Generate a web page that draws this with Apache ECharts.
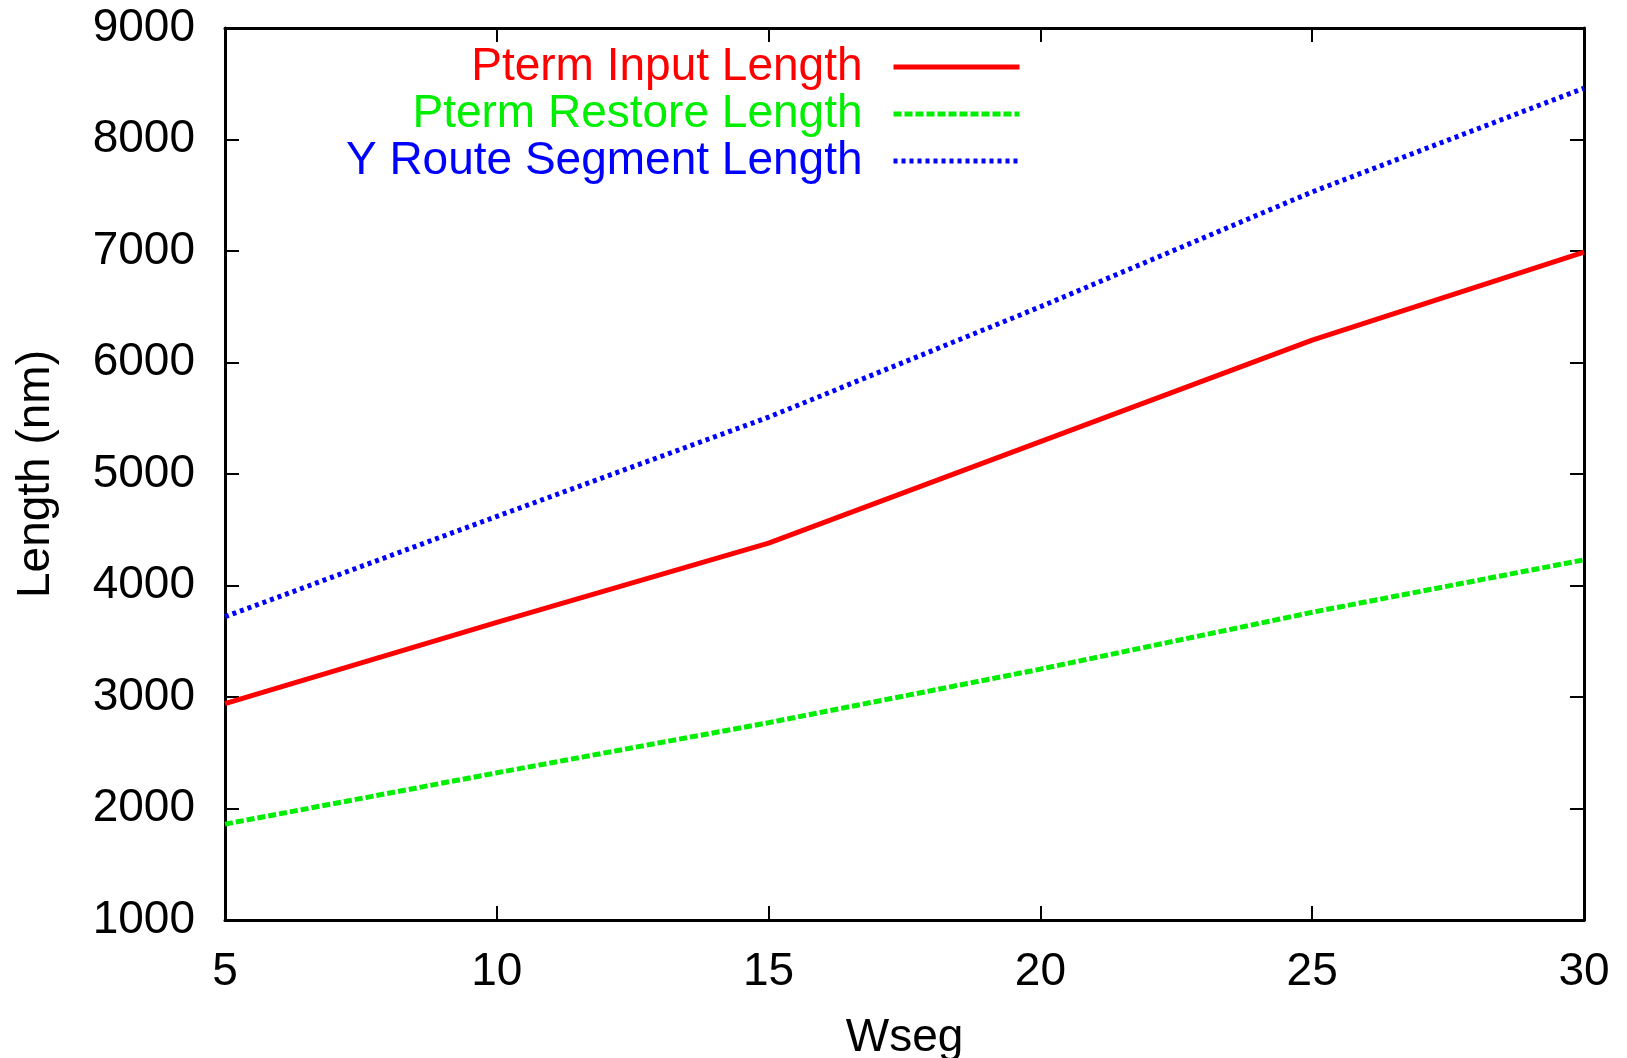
<!DOCTYPE html>
<html>
<head>
<meta charset="utf-8">
<script src="https://cdn.jsdelivr.net/npm/echarts@6/dist/echarts.min.js"></script>
<style>
    html, body { margin: 0; padding: 0; background: #fff; }
    #main { width: 1627px; height: 1058px; }
</style>
</head>
<body>
<div id="main"></div>
<script>
    // values
    var wseg = [5, 10, 15, 20, 25, 30];
    var ptermInput = [2940, 3670, 4380, 5290, 6200, 6990];
    var ptermRestore = [1860, 2320, 2770, 3250, 3760, 4230];
    var yRoute = [3720, 4620, 5510, 6500, 7530, 8460];
    var seriesNames = ['Pterm Input Length', 'Pterm Restore Length', 'Y Route Segment Length'];
    var colorList = ['#ff0000', '#00ee00', '#0000ff'];
    var dashList = ['solid', [8, 3], [4, 4]];

    var font = 'Liberation Sans, Arial, Helvetica, sans-serif';
    var chart = echarts.init(document.getElementById('main'));

    function pairs(ys) {
        return wseg.map(function (x, i) { return [x, ys[i]]; });
    }

    // one legend per row so the line samples line up on the right
    function legendRow(i, top) {
        return {
            data: [seriesNames[i]],
            orient: 'vertical',
            align: 'right',
            right: 605,
            top: top,
            padding: 0,
            itemWidth: 126,
            itemHeight: 40,
            selectedMode: false,
            itemStyle: {opacity: 0},
            lineStyle: {width: 5, type: dashList[i], color: colorList[i]},
            textStyle: {
                fontFamily: font,
                fontSize: 46,
                color: colorList[i],
                padding: [0, 26, 0, 0]
            }
        };
    }

    var tickStyle = {show: true, inside: true, length: 14, lineStyle: {color: '#000', width: 2}};
    var lineStyleAxis = {show: true, onZero: false, lineStyle: {color: '#000', width: 3}};

    var option = {
        animation: false,
        backgroundColor: '#fff',
        color: colorList,
        grid: {left: 225, right: 43, top: 28, bottom: 138, outerBoundsMode: 'none', containLabel: false},
        legend: [legendRow(0, 44), legendRow(1, 91), legendRow(2, 138)],
        xAxis: [
            {
                type: 'value', min: 5, max: 30, interval: 5, position: 'bottom',
                name: 'Wseg', nameLocation: 'middle', nameGap: 95,
                nameTextStyle: {fontFamily: font, fontSize: 46, color: '#000'},
                axisLine: lineStyleAxis, axisTick: tickStyle,
                axisLabel: {fontFamily: font, fontSize: 46, color: '#000', margin: 29},
                splitLine: {show: false}
            },
            {
                type: 'value', min: 5, max: 30, interval: 5, position: 'top',
                axisLine: lineStyleAxis, axisTick: tickStyle,
                axisLabel: {show: false}, splitLine: {show: false}
            }
        ],
        yAxis: [
            {
                type: 'value', min: 1000, max: 9000, interval: 1000, position: 'left',
                name: 'Length (nm)', nameLocation: 'middle', nameGap: 166,
                nameTextStyle: {fontFamily: font, fontSize: 46, color: '#000'},
                axisLine: lineStyleAxis, axisTick: tickStyle,
                axisLabel: {
                    fontFamily: font, fontSize: 46, color: '#000', margin: 30,
                    formatter: function (v) { return String(v); }
                },
                splitLine: {show: false}
            },
            {
                type: 'value', min: 1000, max: 9000, interval: 1000, position: 'right',
                axisLine: lineStyleAxis, axisTick: tickStyle,
                axisLabel: {show: false}, splitLine: {show: false}
            }
        ],
        series: [
            {
                name: seriesNames[0], type: 'line', symbol: 'none', data: pairs(ptermInput),
                lineStyle: {color: colorList[0], width: 5, type: dashList[0]}
            },
            {
                name: seriesNames[1], type: 'line', symbol: 'none', data: pairs(ptermRestore),
                lineStyle: {color: colorList[1], width: 5, type: dashList[1]}
            },
            {
                name: seriesNames[2], type: 'line', symbol: 'none', data: pairs(yRoute),
                lineStyle: {color: colorList[2], width: 5, type: dashList[2]}
            }
        ]
    };
    chart.setOption(option);
</script>
</body>
</html>
